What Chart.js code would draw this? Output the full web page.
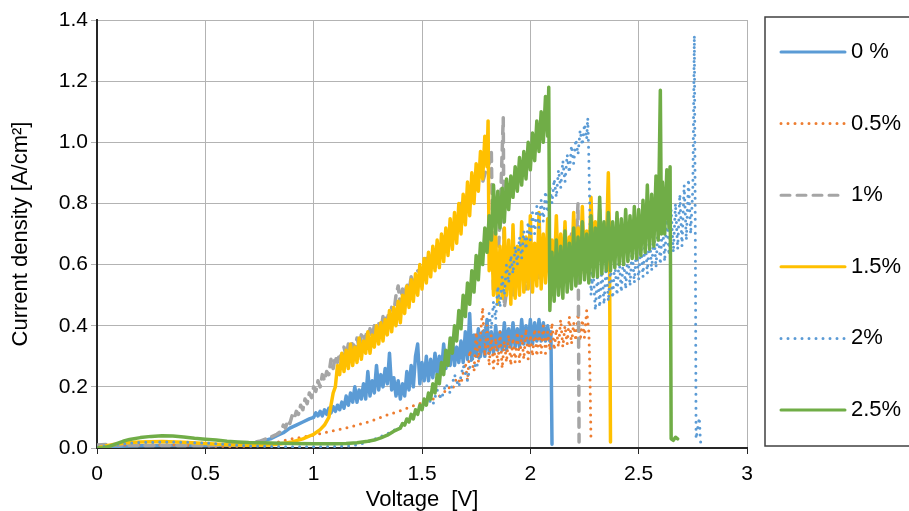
<!DOCTYPE html>
<html lang="en">
<head>
<meta charset="UTF-8">
<title>Current density vs voltage</title>
<script src="https://cdn.jsdelivr.net/npm/chart.js"></script>
<style>
  html, body { margin: 0; padding: 0; background: #fff; overflow: hidden; }
  body { width: 909px; height: 511px; }
  canvas { display: block; }
</style>
</head>
<body>
<canvas id="ivChart" width="909" height="530"></canvas>
<script>
// [voltage V, current density A/cm2]
const pts0 = [[0,0.003],[0.05,0.005],[0.1,0.006],[0.2,0.007],[0.3,0.008],[0.4,0.008],[0.5,0.008],[0.6,0.009],[0.65,0.011],[0.7,0.014],
  [0.75,0.02],[0.8,0.03],[0.83,0.04],[0.86,0.05],[0.89,0.065],[0.92,0.075],[0.95,0.085],[0.98,0.095],
  [1.0,0.1],[1.01,0.115],[1.02,0.105],[1.03,0.12],[1.04,0.105],[1.05,0.125],[1.06,0.11],[1.07,0.13],[1.08,0.115],[1.09,0.135],
  [1.1,0.12],[1.11,0.14],[1.12,0.125],[1.13,0.15],[1.14,0.13],[1.15,0.17],[1.16,0.14],[1.17,0.18],[1.18,0.15],[1.19,0.2],
  [1.2,0.15],[1.21,0.19],[1.22,0.16],[1.23,0.21],[1.24,0.16],[1.25,0.25],[1.26,0.17],[1.27,0.22],[1.28,0.18],[1.29,0.27],
  [1.3,0.19],[1.31,0.24],[1.32,0.2],[1.33,0.26],[1.34,0.21],[1.35,0.31],[1.36,0.19],[1.37,0.23],[1.38,0.17],[1.39,0.22],
  [1.4,0.16],[1.41,0.21],[1.42,0.17],[1.43,0.25],[1.44,0.19],[1.45,0.27],[1.46,0.2],[1.47,0.3],[1.48,0.34],[1.49,0.21],
  [1.5,0.28],[1.51,0.22],[1.52,0.3],[1.53,0.22],[1.54,0.29],[1.55,0.23],[1.56,0.31],[1.57,0.24],[1.58,0.3],[1.59,0.25],
  [1.6,0.34],[1.61,0.26],[1.62,0.31],[1.63,0.27],[1.64,0.36],[1.65,0.27],[1.66,0.33],[1.67,0.28],[1.68,0.35],[1.69,0.28],
  [1.7,0.38],[1.71,0.29],[1.72,0.44],[1.73,0.29],[1.74,0.37],[1.75,0.3],[1.76,0.39],[1.77,0.3],[1.78,0.38],[1.79,0.3],
  [1.8,0.42],[1.81,0.31],[1.82,0.38],[1.83,0.31],[1.84,0.4],[1.85,0.32],[1.86,0.38],[1.87,0.32],[1.88,0.41],[1.89,0.32],
  [1.9,0.39],[1.91,0.33],[1.92,0.41],[1.93,0.33],[1.94,0.39],[1.95,0.33],[1.96,0.42],[1.97,0.34],[1.98,0.4],[1.99,0.34],
  [2.0,0.42],[2.01,0.34],[2.02,0.41],[2.03,0.35],[2.04,0.42],[2.05,0.35],[2.06,0.41],[2.07,0.35],[2.08,0.4],[2.09,0.35],
  [2.095,0.38],[2.1,0.012]];

const pts05 = [[0,0.002],[0.05,0.006],[0.1,0.009],[0.2,0.011],[0.3,0.011],[0.4,0.009],[0.5,0.007],[0.6,0.005],[0.7,0.006],[0.78,0.01],
  [0.82,0.016],[0.86,0.024],[0.9,0.03],[0.95,0.036],[1.0,0.042],[1.05,0.05],[1.1,0.058],[1.15,0.066],[1.2,0.075],[1.25,0.085],
  [1.28,0.092],[1.31,0.1],[1.34,0.108],[1.37,0.115],[1.4,0.122],[1.43,0.13],[1.46,0.138],[1.49,0.145],[1.52,0.152],[1.55,0.16],
  [1.58,0.17],[1.6,0.18],[1.62,0.2],[1.64,0.19],[1.66,0.23],[1.68,0.21],[1.7,0.28],[1.71,0.22],[1.72,0.32],[1.74,0.25],
  [1.75,0.38],[1.76,0.28],[1.78,0.46],[1.79,0.3],
  [1.8,0.4],[1.81,0.27],[1.82,0.37],[1.83,0.26],[1.84,0.36],[1.85,0.27],[1.86,0.38],[1.87,0.26],[1.88,0.35],[1.89,0.28],
  [1.9,0.37],[1.91,0.27],[1.92,0.36],[1.93,0.28],[1.94,0.38],[1.95,0.28],[1.96,0.37],[1.97,0.29],[1.98,0.39],[1.99,0.29],
  [2.0,0.37],[2.01,0.3],[2.02,0.39],[2.03,0.3],[2.04,0.38],[2.05,0.31],[2.06,0.4],[2.07,0.31],[2.08,0.38],[2.09,0.32],
  [2.1,0.41],[2.11,0.32],[2.12,0.39],[2.13,0.33],[2.14,0.42],[2.15,0.33],[2.16,0.4],[2.17,0.34],[2.18,0.43],[2.19,0.34],
  [2.2,0.41],[2.21,0.35],[2.22,0.44],[2.23,0.35],[2.24,0.42],[2.25,0.36],[2.26,0.45],[2.27,0.38],[2.275,0.25],[2.28,0.02]];

const pts1 = [[0,0.01],[0.05,0.012],[0.1,0.01],[0.2,0.008],[0.3,0.008],[0.4,0.008],[0.5,0.008],[0.6,0.01],[0.7,0.015],[0.75,0.022],
  [0.8,0.035],[0.83,0.045],
  [0.85,0.055],[0.86,0.075],[0.87,0.065],[0.88,0.09],[0.89,0.08],[0.9,0.105],[0.91,0.095],[0.92,0.12],[0.93,0.11],[0.94,0.14],
  [0.95,0.125],[0.96,0.16],[0.97,0.145],[0.98,0.18],[0.99,0.165],[1.0,0.2],[1.01,0.185],[1.02,0.22],[1.03,0.2],[1.04,0.24],
  [1.05,0.22],[1.06,0.25],[1.07,0.24],[1.08,0.29],[1.09,0.26],[1.1,0.3],[1.11,0.28],[1.12,0.31],[1.13,0.29],[1.14,0.33],
  [1.15,0.3],[1.16,0.34],[1.17,0.31],[1.18,0.35],[1.19,0.32],[1.2,0.36],[1.21,0.33],[1.22,0.37],[1.23,0.34],[1.24,0.38],
  [1.25,0.35],[1.26,0.39],[1.27,0.36],[1.28,0.4],[1.29,0.37],[1.3,0.41],[1.31,0.38],[1.32,0.43],[1.33,0.4],[1.34,0.44],
  [1.35,0.42],[1.36,0.46],[1.37,0.44],[1.38,0.5],[1.39,0.53],[1.4,0.47],[1.41,0.52],[1.42,0.49],[1.43,0.54],[1.44,0.51],
  [1.45,0.56],[1.46,0.53],[1.48,0.58],[1.5,0.57],[1.52,0.62],[1.54,0.6],[1.56,0.65],[1.58,0.64],[1.6,0.69],[1.62,0.68],
  [1.64,0.73],[1.66,0.72],[1.68,0.8],[1.7,0.78],[1.72,0.85],[1.74,0.83],[1.76,0.88],[1.78,0.87],[1.8,0.92],[1.81,0.93],
  [1.82,0.97],[1.83,0.5],[1.85,0.6],[1.86,0.75],[1.875,1.08],[1.88,0.46],[1.9,0.56],[1.92,0.5],[1.95,0.6],[1.98,0.52],
  [2.01,0.62],[2.04,0.55],[2.07,0.65],[2.1,0.57],[2.13,0.66],[2.16,0.6],[2.19,0.7],[2.21,0.64],[2.22,0.8],[2.225,0.02]];

const pts15 = [[0,0.0],[0.05,0.008],[0.1,0.014],[0.15,0.018],[0.2,0.02],[0.3,0.021],[0.4,0.019],[0.5,0.015],[0.6,0.011],[0.7,0.009],
  [0.8,0.01],[0.85,0.014],[0.9,0.02],[0.95,0.03],[1.0,0.045],[1.03,0.06],[1.05,0.075],[1.07,0.1],[1.08,0.14],[1.09,0.18],
  [1.1,0.2],[1.11,0.27],[1.12,0.24],[1.13,0.31],[1.14,0.25],[1.15,0.32],[1.16,0.26],[1.17,0.34],[1.18,0.27],[1.19,0.33],
  [1.2,0.28],[1.21,0.36],[1.22,0.29],[1.23,0.35],[1.24,0.31],[1.25,0.38],[1.26,0.31],[1.27,0.37],[1.28,0.33],[1.29,0.4],
  [1.3,0.34],[1.31,0.41],[1.32,0.35],[1.33,0.42],[1.34,0.37],[1.35,0.45],[1.36,0.38],[1.37,0.46],[1.38,0.4],[1.39,0.48],
  [1.4,0.41],[1.41,0.5],[1.42,0.44],[1.43,0.53],[1.44,0.46],[1.45,0.55],[1.46,0.48],[1.47,0.57],[1.48,0.5],[1.49,0.6],
  [1.5,0.52],[1.51,0.62],[1.52,0.54],[1.53,0.64],[1.54,0.56],[1.55,0.66],[1.56,0.58],[1.57,0.68],[1.58,0.59],[1.59,0.7],
  [1.6,0.61],[1.61,0.72],[1.62,0.63],[1.63,0.75],[1.64,0.65],[1.65,0.77],[1.66,0.67],[1.67,0.8],[1.68,0.7],[1.69,0.83],
  [1.7,0.73],[1.71,0.87],[1.72,0.76],[1.73,0.9],[1.74,0.8],[1.75,0.93],[1.76,0.84],[1.77,0.97],[1.78,0.88],[1.79,1.02],
  [1.8,0.92],[1.805,1.07],
  [1.81,0.58],[1.82,0.74],[1.83,0.5],[1.84,0.7],[1.85,0.47],[1.86,0.66],[1.87,0.49],[1.88,0.72],[1.89,0.5],[1.9,0.68],
  [1.91,0.47],[1.92,0.73],[1.93,0.49],[1.94,0.66],[1.95,0.5],[1.96,0.74],[1.97,0.51],[1.98,0.69],[1.99,0.52],[2.0,0.76],
  [2.01,0.51],[2.02,0.67],[2.03,0.53],[2.04,0.77],[2.05,0.52],[2.06,0.7],[2.07,0.54],[2.08,0.75],[2.09,0.53],[2.1,0.68],
  [2.11,0.55],[2.12,0.76],[2.13,0.54],[2.14,0.7],[2.15,0.56],[2.16,0.74],[2.17,0.55],[2.18,0.69],[2.19,0.57],[2.2,0.77],
  [2.21,0.56],[2.22,0.72],[2.23,0.58],[2.24,0.79],[2.25,0.57],[2.26,0.71],[2.27,0.59],[2.28,0.82],[2.29,0.6],[2.3,0.74],
  [2.31,0.61],[2.32,0.78],[2.33,0.62],[2.34,0.73],[2.35,0.63],[2.36,0.9],[2.365,0.7],[2.37,0.02]];

const pts2 = [[0,0.003],[0.05,0.008],[0.1,0.012],[0.15,0.016],[0.2,0.018],[0.3,0.02],[0.4,0.019],[0.5,0.016],[0.6,0.011],[0.7,0.007],
  [0.8,0.005],[0.9,0.004],[1.0,0.004],[1.1,0.005],[1.15,0.006],[1.2,0.01],[1.25,0.02],[1.3,0.035],[1.35,0.05],[1.4,0.07],
  [1.45,0.1],[1.5,0.13],[1.53,0.16],[1.55,0.14],[1.57,0.19],[1.59,0.16],[1.61,0.21],[1.63,0.18],[1.65,0.24],[1.67,0.2],
  [1.69,0.27],[1.71,0.22],[1.73,0.3],[1.75,0.26],[1.77,0.31],
  [1.78,0.33],[1.79,0.4],[1.8,0.36],[1.81,0.44],[1.82,0.39],[1.83,0.48],[1.84,0.42],[1.85,0.53],[1.86,0.46],[1.87,0.56],
  [1.88,0.5],[1.89,0.6],[1.9,0.54],[1.91,0.63],[1.92,0.57],[1.93,0.66],[1.94,0.6],[1.95,0.69],[1.96,0.62],[1.97,0.71],
  [1.98,0.65],[1.99,0.74],[2.0,0.68],[2.01,0.77],[2.02,0.7],[2.03,0.79],[2.04,0.72],[2.05,0.81],[2.06,0.74],[2.07,0.84],
  [2.08,0.77],[2.09,0.86],[2.1,0.8],[2.11,0.88],[2.12,0.82],[2.13,0.91],[2.14,0.85],[2.15,0.94],[2.16,0.87],[2.17,0.96],
  [2.18,0.9],[2.19,0.99],[2.2,0.93],[2.21,1.01],[2.22,0.96],[2.23,1.04],[2.24,0.99],[2.25,1.06],[2.26,1.01],[2.265,1.08],
  [2.27,0.95],[2.275,0.75],[2.28,0.5],
  [2.29,0.58],[2.3,0.45],[2.31,0.57],[2.32,0.46],[2.33,0.59],[2.34,0.47],[2.35,0.6],[2.36,0.48],[2.37,0.59],[2.38,0.49],
  [2.39,0.61],[2.4,0.5],[2.41,0.62],[2.42,0.51],[2.43,0.63],[2.44,0.52],[2.45,0.64],[2.46,0.53],[2.47,0.65],[2.48,0.54],
  [2.49,0.66],[2.5,0.55],[2.51,0.67],[2.52,0.56],[2.53,0.69],[2.54,0.57],[2.55,0.7],[2.56,0.58],[2.57,0.71],[2.58,0.59],
  [2.59,0.73],[2.6,0.6],[2.61,0.74],[2.62,0.61],[2.63,0.76],[2.64,0.63],[2.65,0.78],[2.66,0.64],[2.67,0.8],[2.68,0.65],
  [2.69,0.83],[2.7,0.66],[2.71,0.86],[2.72,0.68],[2.73,0.88],[2.74,0.7],[2.75,0.85],
  [2.757,1.35],[2.762,0.6],[2.765,0.03],[2.78,0.1],[2.785,0.02],[2.81,0.02]];

const pts25 = [[0,0.0],[0.03,0.001],[0.06,0.006],[0.09,0.014],[0.12,0.022],[0.15,0.028],[0.2,0.034],[0.25,0.038],[0.3,0.04],[0.35,0.039],
  [0.4,0.036],[0.45,0.032],[0.5,0.029],[0.55,0.026],[0.6,0.022],[0.65,0.02],[0.7,0.018],[0.8,0.016],[0.9,0.015],[1.0,0.014],
  [1.1,0.014],[1.15,0.015],[1.2,0.017],[1.25,0.022],[1.28,0.026],[1.31,0.033],[1.34,0.042],[1.37,0.055],
  [1.4,0.065],[1.41,0.08],[1.42,0.075],[1.43,0.095],[1.44,0.085],[1.45,0.11],[1.46,0.095],[1.47,0.125],[1.48,0.11],[1.49,0.14],
  [1.5,0.125],[1.51,0.16],[1.52,0.14],[1.53,0.18],[1.54,0.16],[1.55,0.21],[1.56,0.18],[1.57,0.24],[1.58,0.21],[1.59,0.28],
  [1.6,0.24],[1.61,0.32],[1.62,0.27],[1.63,0.36],[1.64,0.31],[1.65,0.4],[1.66,0.35],[1.67,0.45],[1.68,0.39],[1.69,0.5],
  [1.7,0.43],[1.71,0.54],[1.72,0.47],[1.73,0.58],[1.74,0.51],[1.75,0.63],[1.76,0.55],[1.77,0.67],[1.78,0.6],[1.79,0.72],
  [1.8,0.64],[1.81,0.76],[1.82,0.68],[1.83,0.86],[1.84,0.7],[1.85,0.84],[1.86,0.72],[1.87,0.85],[1.88,0.74],[1.89,0.88],
  [1.9,0.78],[1.91,0.89],[1.92,0.82],[1.93,0.92],[1.94,0.84],[1.95,0.95],[1.96,0.86],[1.97,0.97],[1.98,0.88],[1.99,1.0],
  [2.0,0.91],[2.01,1.03],[2.02,0.94],[2.03,1.07],[2.04,0.97],[2.05,1.1],[2.06,1.0],[2.07,1.15],[2.08,1.02],[2.085,1.18],
  [2.09,0.45],
  [2.1,0.64],[2.11,0.48],[2.12,0.68],[2.13,0.5],[2.14,0.66],[2.15,0.49],[2.16,0.71],[2.17,0.51],[2.18,0.67],[2.19,0.52],
  [2.2,0.72],[2.21,0.53],[2.22,0.69],[2.23,0.54],[2.24,0.74],[2.25,0.55],[2.26,0.7],[2.27,0.54],[2.28,0.76],[2.29,0.56],
  [2.3,0.72],[2.31,0.56],[2.32,0.82],[2.33,0.57],[2.34,0.74],[2.35,0.58],[2.36,0.77],[2.37,0.58],[2.38,0.74],[2.39,0.59],
  [2.4,0.77],[2.41,0.6],[2.42,0.75],[2.43,0.6],[2.44,0.78],[2.45,0.61],[2.46,0.76],[2.47,0.62],[2.48,0.79],[2.49,0.62],
  [2.5,0.78],[2.51,0.63],[2.52,0.81],[2.53,0.64],[2.54,0.86],[2.55,0.65],[2.56,0.83],[2.57,0.66],[2.58,0.89],[2.59,0.68],
  [2.6,1.17],[2.605,0.7],[2.61,0.87],[2.62,0.7],[2.63,0.91],[2.64,0.72],[2.645,0.92],[2.65,0.03],[2.66,0.025],[2.67,0.035],
  [2.68,0.03]];

const seriesLabels = ['0 %', '0.5%', '1%', '1.5%', '2%', '2.5%'];
const seriesPoints = [pts0, pts05, pts1, pts15, pts2, pts25];
const seriesColors = ['#5B9BD5', '#ED7D31', '#A5A5A5', '#FFC000', '#5B9BD5', '#70AD47'];
const seriesDash = [[], [0, 7], [9, 7], [], [0, 7], []];
const seriesWidth = [3.5, 3, 3.5, 3.5, 3, 3.5];

const xTicks = { min: 0, max: 3, step: 0.5 };
const yTicks = { min: 0, max: 1.4, step: 0.2 };

const FONT = '"Liberation Sans", Arial, sans-serif';
const gridColor = '#b3b3b3';
const axisColor = '#262626';

// Excel style boxed legend on the right
const boxedLegend = {
  id: 'boxedLegend',
  afterDraw(chart) {
    const ctx = chart.ctx;
    ctx.save();
    ctx.strokeStyle = '#404040';
    ctx.lineWidth = 1.5;
    ctx.setLineDash([]);
    ctx.strokeRect(765, 17, 200, 429);
    chart.data.datasets.forEach((ds, i) => {
      const y = 52 + i * 71.6;
      ctx.beginPath();
      ctx.strokeStyle = ds.borderColor;
      ctx.lineWidth = 3;
      ctx.lineCap = 'round';
      ctx.setLineDash(ds.borderDash);
      ctx.moveTo(781, y);
      ctx.lineTo(845, y);
      ctx.stroke();
      ctx.setLineDash([]);
      ctx.fillStyle = '#000';
      ctx.font = '22px ' + FONT;
      ctx.textBaseline = 'middle';
      ctx.textAlign = 'left';
      ctx.fillText(ds.label, 851, y);
    });
    ctx.restore();
  }
};

const datasets = seriesLabels.map((label, i) => ({
  label: label,
  data: seriesPoints[i].map(p => ({ x: p[0], y: p[1] })),
  showLine: true,
  borderColor: seriesColors[i],
  backgroundColor: seriesColors[i],
  borderWidth: seriesWidth[i],
  borderDash: seriesDash[i],
  borderCapStyle: 'round',
  borderJoinStyle: 'round',
  pointRadius: 0,
  tension: 0,
  order: seriesLabels.length - 1 - i   // later series drawn on top, as in Excel
}));

new Chart(document.getElementById('ivChart'), {
  type: 'scatter',
  data: { datasets: datasets },
  plugins: [boxedLegend],
  options: {
    responsive: false,
    animation: false,
    devicePixelRatio: 1,
    layout: { padding: { left: 0, top: 20, right: 162, bottom: 0 } },
    plugins: { legend: { display: false }, tooltip: { enabled: false } },
    scales: {
      x: {
        type: 'linear',
        min: xTicks.min,
        max: xTicks.max,
        afterFit: s => { s.height = 82; },
        ticks: {
          stepSize: xTicks.step,
          padding: 8,
          color: '#000',
          font: { family: FONT, size: 21 },
          maxRotation: 0,
          callback: v => String(+v.toFixed(2))
        },
        grid: { color: gridColor, lineWidth: 1, tickLength: 6, tickColor: axisColor },
        border: { color: axisColor, width: 2 },
        title: {
          display: true,
          text: 'Voltage  [V]',
          color: '#000',
          font: { family: FONT, size: 22 },
          padding: { top: 0, bottom: 17 }
        }
      },
      y: {
        type: 'linear',
        min: yTicks.min,
        max: yTicks.max,
        afterFit: s => { s.width = 97; },
        ticks: {
          stepSize: yTicks.step,
          padding: 3,
          color: '#000',
          font: { family: FONT, size: 21 },
          callback: v => v.toFixed(1)
        },
        grid: { color: gridColor, lineWidth: 1, tickLength: 6, tickColor: gridColor },
        border: { color: axisColor, width: 2 },
        title: {
          display: true,
          text: 'Current density [A/cm²]',
          color: '#000',
          font: { family: FONT, size: 22 },
          padding: { top: 8, bottom: 0 }
        }
      }
    }
  }
});
</script>
</body>
</html>
